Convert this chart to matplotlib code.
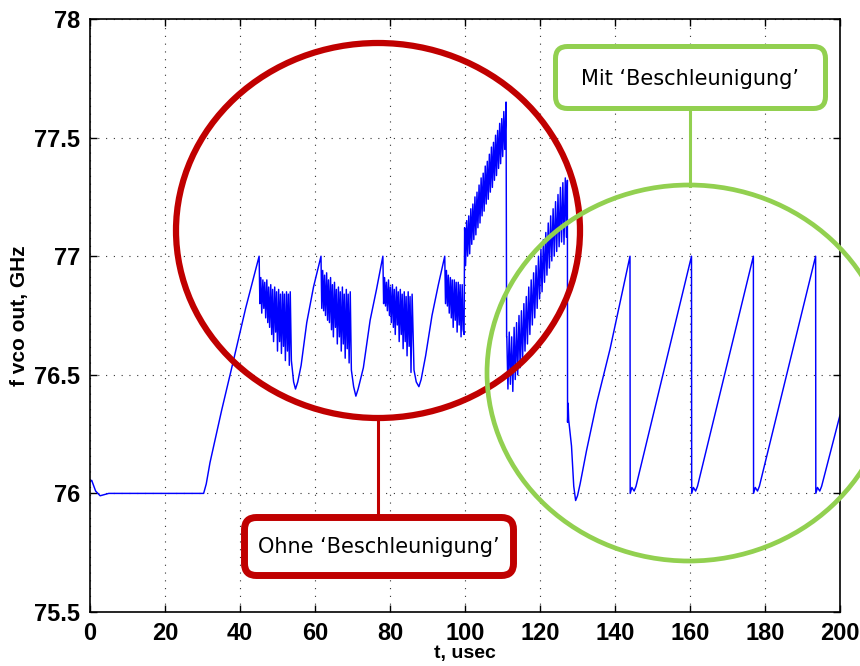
#!/usr/bin/env python3
"""VCO output frequency vs time, with / without 'Beschleunigung' (MATLAB-style plot)."""
import matplotlib
matplotlib.use("Agg")
import matplotlib.pyplot as plt
from matplotlib.patches import Ellipse, FancyBboxPatch

BLUE = "#0000ff"
RED = "#c00000"
GREEN = "#92d050"

# ---- trace (t in usec, f in GHz) ----
# settling + flat part
A_t = [0.0, 0.45, 1.5, 2.7, 5.0, 15.0, 25.0, 30.3]
A_f = [76.05, 76.055, 76.01, 75.99, 76.0, 76.0, 76.0, 76.0]
# first ramp
B_t = [31.0, 32.0, 35.1, 38.1, 41.5]
B_f = [76.04, 76.13, 76.35, 76.55, 76.78]
# cycle-slip bursts, without acceleration
C_t = [45.1, 45.3, 45.55, 45.8, 46.1, 46.35, 46.6, 46.85, 47.15, 47.4, 47.65,
       47.9, 48.2, 48.45, 48.7, 48.95, 49.25, 49.5, 49.75, 50.0, 50.3, 50.55,
       50.8, 51.05, 51.35, 51.6, 51.85, 52.1, 52.4, 52.65, 52.9, 53.15, 53.4,
       53.7, 54.3, 54.8, 55.4, 56.3, 57.8, 59.6, 61.6]
C_f = [77.00, 76.80, 76.91, 76.76, 76.90, 76.78, 76.89, 76.74, 76.90, 76.72,
       76.87, 76.70, 76.88, 76.67, 76.86, 76.64, 76.87, 76.68, 76.85, 76.60,
       76.86, 76.64, 76.84, 76.59, 76.85, 76.62, 76.84, 76.56, 76.85, 76.60,
       76.84, 76.54, 76.85, 76.56, 76.47, 76.44, 76.47, 76.54, 76.72, 76.87,
       77.00]
D_t = [61.8, 62.05, 62.3, 62.55, 62.8, 63.1, 63.35, 63.6, 63.85, 64.15, 64.4,
       64.65, 64.9, 65.2, 65.45, 65.7, 65.95, 66.25, 66.5, 66.75, 67.0, 67.3,
       67.55, 67.8, 68.05, 68.35, 68.6, 68.85, 69.1, 69.4, 69.7, 70.3, 70.9,
       71.5, 72.9, 74.7, 76.4, 78.1]
D_f = [76.78, 76.94, 76.77, 76.92, 76.75, 76.93, 76.73, 76.90, 76.72, 76.91,
       76.69, 76.88, 76.66, 76.89, 76.70, 76.86, 76.63, 76.87, 76.66, 76.85,
       76.60, 76.87, 76.63, 76.84, 76.57, 76.86, 76.61, 76.84, 76.55, 76.85,
       76.52, 76.45, 76.41, 76.44, 76.53, 76.73, 76.86, 77.00]
E_t = [78.3, 78.55, 78.8, 79.05, 79.3, 79.6, 79.85, 80.1, 80.35, 80.65, 80.9,
       81.15, 81.4, 81.7, 81.95, 82.2, 82.45, 82.75, 83.0, 83.25, 83.5, 83.8,
       84.05, 84.3, 84.55, 84.85, 85.1, 85.35, 85.6, 85.9, 86.4, 87.0, 87.7,
       88.3, 89.5, 91.2, 92.9, 94.6]
E_f = [76.80, 76.91, 76.79, 76.89, 76.77, 76.90, 76.75, 76.87, 76.72, 76.88,
       76.70, 76.86, 76.67, 76.87, 76.71, 76.85, 76.64, 76.86, 76.67, 76.84,
       76.61, 76.85, 76.64, 76.83, 76.58, 76.85, 76.62, 76.83, 76.51, 76.84,
       76.52, 76.47, 76.45, 76.48, 76.58, 76.75, 76.88, 77.00]
F_t = [94.8, 95.05, 95.3, 95.55, 95.8, 96.1, 96.35, 96.6, 96.85, 97.15, 97.4,
       97.65, 97.9, 98.2, 98.45, 98.7, 98.95, 99.25, 99.5, 99.75]
F_f = [76.80, 76.94, 76.79, 76.92, 76.76, 76.91, 76.74, 76.90, 76.70, 76.90,
       76.73, 76.89, 76.68, 76.89, 76.71, 76.88, 76.66, 76.88, 76.69, 76.67]
# rising burst after the jump at 100 usec
H_t = [99.9, 100.15, 100.45, 100.7, 101.0, 101.25, 101.55, 101.8, 102.1,
       102.35, 102.65, 102.9, 103.2, 103.45, 103.75, 104.0, 104.3, 104.55,
       104.85, 105.1, 105.4, 105.65, 105.95, 106.2, 106.5, 106.75, 107.05,
       107.3, 107.6, 107.85, 108.15, 108.4, 108.7, 108.95, 109.25, 109.5,
       109.8, 110.05, 110.35, 110.6, 110.95]
H_f = [77.12, 76.96, 77.15, 77.00, 77.17, 77.01, 77.20, 77.05, 77.22, 77.07,
       77.25, 77.09, 77.27, 77.12, 77.30, 77.14, 77.33, 77.17, 77.35, 77.19,
       77.38, 77.22, 77.40, 77.24, 77.43, 77.27, 77.46, 77.29, 77.48, 77.32,
       77.51, 77.34, 77.53, 77.37, 77.56, 77.39, 77.58, 77.42, 77.61, 77.45,
       77.65]
G_t = [111.1, 111.15, 111.45, 111.8, 112.1, 112.45, 112.75, 113.1, 113.4,
       113.75, 114.05, 114.4, 114.7, 115.05, 115.35, 115.7, 116.0, 116.35,
       116.65, 117.0, 117.3, 117.65, 117.95, 118.3, 118.6, 118.95, 119.25,
       119.6, 119.9, 120.25, 120.55, 120.9, 121.2, 121.55, 121.85, 122.2,
       122.5, 122.85, 123.15, 123.5, 123.8, 124.15, 124.45, 124.8, 125.1,
       125.45, 125.75, 126.1, 126.4, 126.75, 127.05]
G_f = [76.66, 76.66, 76.44, 76.68, 76.46, 76.66, 76.43, 76.70, 76.48, 76.72,
       76.50, 76.75, 76.53, 76.77, 76.56, 76.80, 76.60, 76.83, 76.63, 76.87,
       76.67, 76.90, 76.71, 76.93, 76.74, 76.96, 76.78, 77.00, 76.82, 77.03,
       76.85, 77.07, 76.89, 77.10, 76.92, 77.14, 76.95, 77.17, 76.98, 77.20,
       77.00, 77.23, 77.02, 77.26, 77.04, 77.29, 77.06, 77.31, 77.05, 77.33,
       77.08]
# with acceleration: one dip, then clean sawtooth
I_t = [127.3, 127.35, 127.5, 127.65, 128.4, 129.0, 129.5, 130.0, 130.7, 132.4,
       135.1, 138.7, 144.0]
I_f = [77.32, 76.30, 76.38, 76.31, 76.20, 76.03, 75.97, 75.99, 76.04, 76.18,
       76.38, 76.61, 77.00]
S_t = [144.05, 144.5, 145.1, 145.6, 160.4, 160.45, 160.9, 161.5, 162.0, 176.9,
       176.95, 177.4, 178.0, 178.5, 193.5, 193.55, 194.0, 194.6, 195.1, 200.0]
S_f = [76.00, 76.025, 76.01, 76.03, 77.00, 76.00, 76.025, 76.01, 76.03, 77.00,
       76.00, 76.025, 76.01, 76.03, 77.00, 76.00, 76.025, 76.01, 76.03, 76.33]

t = A_t + B_t + C_t + D_t + E_t + F_t + H_t + G_t + I_t + S_t
f = A_f + B_f + C_f + D_f + E_f + F_f + H_f + G_f + I_f + S_f

x_ticks = [0, 20, 40, 60, 80, 100, 120, 140, 160, 180, 200]
y_ticks = [75.5, 76, 76.5, 77, 77.5, 78]
y_labels = ["75.5", "76", "76.5", "77", "77.5", "78"]

plt.rcParams["font.family"] = ["Liberation Sans", "DejaVu Sans"]

fig = plt.figure(figsize=(8.6, 6.66), dpi=100)
ax = fig.add_axes([90 / 860, 54 / 666, 750 / 860, 593 / 666])
ax.plot(t, f, color=BLUE, lw=1.05)
ax.set_xlim(0, 200)
ax.set_ylim(75.5, 78)
ax.set_xticks(x_ticks)
ax.set_yticks(y_ticks)
ax.set_yticklabels(y_labels)
ax.tick_params(direction="in", length=5, width=1, top=True, right=True,
               labelsize=17, pad=7)
for lab in ax.get_xticklabels() + ax.get_yticklabels():
    lab.set_fontweight("bold")
for sp in ax.spines.values():
    sp.set_linewidth(1.2)
ax.grid(True, color="#333333", linestyle=(0, (1, 6)), linewidth=0.8)
ax.set_xlabel("t, usec", fontsize=14, fontweight="bold", labelpad=0)
ax.set_ylabel("f vco out, GHz", fontsize=15, fontweight="bold", labelpad=4)

# ---- annotation layer in pixel coordinates ----
ov = fig.add_axes([0, 0, 1, 1], facecolor="none")
ov.set_xlim(0, 860)
ov.set_ylim(666, 0)
ov.axis("off")

ov.add_patch(Ellipse((378, 230.5), 404, 375, fill=False, ec=RED, lw=4.5))
ov.plot([378, 378], [418, 518], color=RED, lw=2.2)
ov.add_patch(FancyBboxPatch((244.5, 517.5), 269, 58,
                            boxstyle="round,pad=0,rounding_size=12",
                            fc="white", ec=RED, lw=5))
ov.text(379, 547, "Ohne \u2018Beschleunigung\u2019", ha="center", va="center",
        fontsize=15, family="DejaVu Sans", color="black")

ov.add_patch(Ellipse((689, 373), 404, 376, fill=False, ec=GREEN, lw=3.4))
ov.plot([690, 690], [108, 186], color=GREEN, lw=2.2)
ov.add_patch(FancyBboxPatch((555.5, 46.5), 270, 62,
                            boxstyle="round,pad=0,rounding_size=12",
                            fc="white", ec=GREEN, lw=3.6))
ov.text(690, 79, "Mit \u2018Beschleunigung\u2019", ha="center", va="center",
        fontsize=15, family="DejaVu Sans", color="black")

fig.savefig("out.png", dpi=100)
